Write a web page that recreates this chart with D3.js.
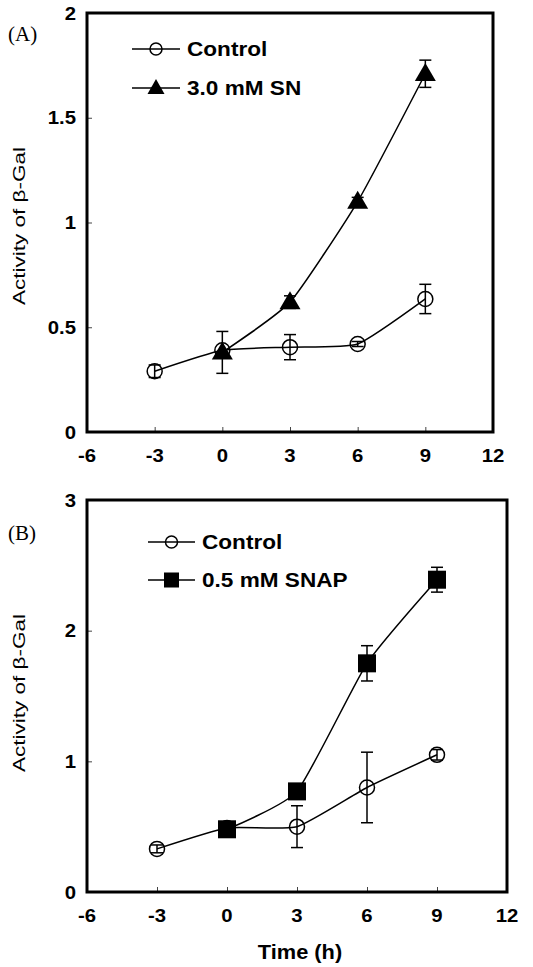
<!DOCTYPE html>
<html><head><meta charset="utf-8">
<script src="https://cdn.jsdelivr.net/npm/d3@7"></script>
<style>
body{margin:0;background:#fff}
svg{display:block;font-family:"Liberation Sans",Arial,sans-serif}
</style></head>
<body>
<svg id="c" width="533" height="967"></svg>
<script>
// ---- data ----
const xTicks = [-6,-3,0,3,6,9,12];
const yTicksA = [0,0.5,1,1.5,2];
const yTicksB = [0,1,2,3];
const yTickLabelsA = ["0","0.5","1","1.5","2"];
const yTickLabelsB = ["0","1","2","3"];

const ctrlTimeA = [-3,0,3,6,9];
const ctrlA = [0.29,0.39,0.405,0.42,0.635];
const ctrlErrA = [0.03,0,0.06,0.012,0.07];
const snTimeA = [0,3,6,9];
const snA = [0.38,0.62,1.1,1.71];
const snErrA = [0.10,0.03,0.02,0.065];

const ctrlTimeB = [-3,0,3,6,9];
const ctrlB = [0.33,0.49,0.50,0.80,1.05];
const ctrlErrB = [0.03,0,0.16,0.27,0.04];
const snapTimeB = [0,3,6,9];
const snapB = [0.48,0.77,1.75,2.39];
const snapErrB = [0,0,0.135,0.095];

const legendA = ["Control","3.0 mM SN"];
const legendB = ["Control","0.5 mM SNAP"];

const svg = d3.select("#c");

function zip(t,v,e){return t.map((d,i)=>({x:d,y:v[i],e:e[i]}));}

// bold text slightly widened, like the original figure font
function bt(g,x,y,anchor,size,text){
  return g.append("text").attr("transform",`translate(${x},${y}) scale(1.13,1)`)
    .attr("text-anchor",anchor).attr("font-size",size).attr("font-weight","bold").text(text);
}

function panel(o){
  const x = d3.scaleLinear().domain([-6,12]).range([o.left,o.right]);
  const y = d3.scaleLinear().domain([0,o.ymax]).range([o.bottom,o.top]);
  const g = svg.append("g");
  // inward ticks
  g.append("g").attr("transform",`translate(0,${o.bottom})`)
    .call(d3.axisBottom(x).tickValues(xTicks).tickSize(-5).tickFormat(""))
    .call(s=>{s.select(".domain").remove();s.selectAll("line").attr("stroke","#444").attr("stroke-width",1);});
  g.append("g").attr("transform",`translate(${o.left},0)`)
    .call(d3.axisLeft(y).tickValues(o.yTicks).tickSize(-5).tickFormat(""))
    .call(s=>{s.select(".domain").remove();s.selectAll("line").attr("stroke","#444").attr("stroke-width",1);});
  // tick labels
  xTicks.forEach(d=>bt(g,x(d),o.bottom+30,"middle",18,d));
  o.yTicks.forEach((d,i)=>bt(g,o.left-11,y(d)+6.5,"end",18,o.yLabels[i]));
  // frame
  g.append("rect").attr("x",o.left).attr("y",o.top)
    .attr("width",o.right-o.left).attr("height",o.bottom-o.top)
    .attr("fill","none").attr("stroke","#000").attr("stroke-width",3);
  // y title
  g.append("text").attr("transform",`translate(${o.titleX},${o.titleY}) rotate(-90)`)
    .attr("text-anchor","middle").attr("font-size",17)
    .attr("textLength",158).attr("lengthAdjust","spacingAndGlyphs").text("Activity of \u03B2-Gal");
  // panel letter
  g.append("text").attr("x",8).attr("y",o.letterY)
    .attr("font-family","'Liberation Serif','Times New Roman',serif").attr("font-size",21).text(o.letter);

  const line = d3.line().x(d=>x(d.x)).y(d=>y(d.y)).curve(d3.curveCardinal.tension(0.5));
  const series = [
    {data:zip(o.c.t,o.c.v,o.c.e),shape:"circle"},
    {data:zip(o.s.t,o.s.v,o.s.e),shape:o.shape}
  ];
  series.forEach(s=>{
    g.append("path").datum(s.data).attr("d",line).attr("fill","none").attr("stroke","#000").attr("stroke-width",1.5);
  });
  series.forEach(s=>{
    const eb = g.append("g").attr("stroke","#000").attr("stroke-width",1.5);
    s.data.filter(d=>d.e>0).forEach(d=>{
      eb.append("line").attr("x1",x(d.x)).attr("x2",x(d.x)).attr("y1",y(d.y-d.e)).attr("y2",y(d.y+d.e));
      [d.y-d.e,d.y+d.e].forEach(v=>eb.append("line").attr("x1",x(d.x)-6).attr("x2",x(d.x)+6).attr("y1",y(v)).attr("y2",y(v)));
    });
    s.data.forEach(d=>drawMarker(g,s.shape,x(d.x),y(d.y),false));
  });
  // legend
  o.legend.forEach((name,i)=>{
    const ly = o.legY[i];
    g.append("line").attr("x1",o.legX1).attr("x2",o.legX2).attr("y1",ly).attr("y2",ly)
      .attr("stroke","#000").attr("stroke-width",1.5);
    drawMarker(g,i===0?"circle":o.shape,(o.legX1+o.legX2)/2,ly,true);
    bt(g,o.legX2+7,ly+7,"start",20,name);
  });
}

function drawMarker(g,shape,cx,cy,leg){
  if(shape==="circle"){
    g.append("circle").attr("cx",cx).attr("cy",cy).attr("r",leg?6:7.5)
      .attr("fill","none").attr("stroke","#000").attr("stroke-width",1.5);
  } else if(shape==="triangle"){
    const w = leg?17:21, h = leg?15:18;
    g.append("path").attr("d",`M${cx},${cy-h*0.6}L${cx+w/2},${cy+h*0.4}L${cx-w/2},${cy+h*0.4}Z`).attr("fill","#000");
  } else {
    const s = leg?15:18;
    g.append("rect").attr("x",cx-s/2).attr("y",cy-s/2).attr("width",s).attr("height",s).attr("fill","#000");
  }
}

panel({left:87,right:493,top:13,bottom:432,ymax:2,yTicks:yTicksA,yLabels:yTickLabelsA,
  titleX:25,titleY:226,letter:"(A)",letterY:41,
  c:{t:ctrlTimeA,v:ctrlA,e:ctrlErrA},s:{t:snTimeA,v:snA,e:snErrA},shape:"triangle",
  legend:legendA,legY:[49,88],legX1:132,legX2:180});

panel({left:87,right:507,top:500,bottom:892,ymax:3,yTicks:yTicksB,yLabels:yTickLabelsB,
  titleX:25,titleY:693,letter:"(B)",letterY:540,
  c:{t:ctrlTimeB,v:ctrlB,e:ctrlErrB},s:{t:snapTimeB,v:snapB,e:snapErrB},shape:"square",
  legend:legendB,legY:[542,580],legX1:148,legX2:195});

svg.append("text").attr("transform","translate(300,959) scale(1.09,1)").attr("text-anchor","middle")
  .attr("font-size",20).attr("font-weight","bold").text("Time (h)");
</script>
</body></html>
